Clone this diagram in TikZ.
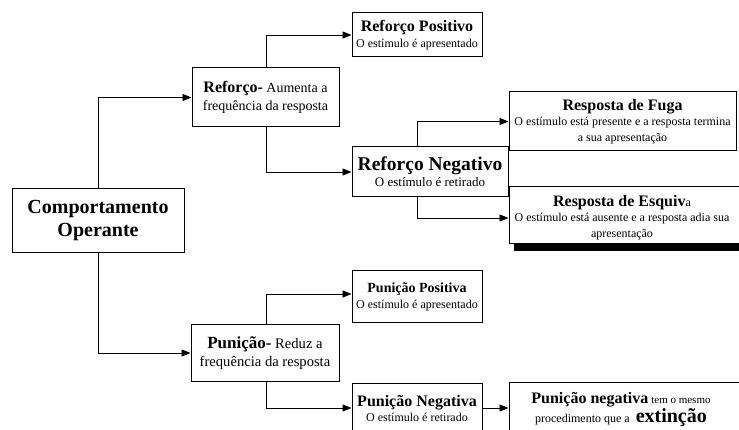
\documentclass[tikz,border=0pt]{standalone}
\usepackage{fontspec}
\setmainfont{Liberation Serif}
\usetikzlibrary{arrows.meta}
\newcommand{\bsz}[2]{{\fontsize{#1}{#1}\selectfont\bfseries #2}}
\begin{document}
\begin{tikzpicture}[x=1pt,y=-1pt,
  box/.style={draw, line width=1pt, fill=white, inner sep=0pt},
  conn/.style={line width=0.9pt},
  arr/.style={conn,-{Triangle[length=9pt,width=7pt]}},
  sml/.style={align=center, inner sep=0pt, font=\fontsize{12}{15.5}\selectfont},
  mid/.style={align=center, inner sep=0pt, font=\fontsize{14}{18.5}\selectfont}]
\useasboundingbox (0,0) rectangle (739,430);
\clip (0,0) rectangle (739,430);

% boxes
\node[box, minimum width=172pt, minimum height=64pt, align=center,
  font=\fontsize{20}{23}\selectfont\bfseries] (co) at (98,221) {Comportamento\\Operante};
\node[box, mid, minimum width=147pt, minimum height=59pt] (ref) at (265.5,97.5)
  {\bsz{16}{Reforço-} Aumenta a\\frequência da resposta};
\node[box, mid, font=\fontsize{14.6}{18.5}\selectfont, minimum width=148pt, minimum height=56pt] (pun) at (265,353)
  {\bsz{17}{Punição-} Reduz a\\frequência da resposta};
\node[box, sml, minimum width=130pt, minimum height=44pt] (rp) at (417,35)
  {\bsz{16}{Reforço Positivo}\\O estímulo é apresentado};
\node[box, sml, font=\fontsize{13}{16}\selectfont, minimum width=156pt, minimum height=50pt] (rn) at (430,172)
  {\bsz{19.5}{Reforço Negativo}\\O estímulo é retirado};
\node[box, sml, minimum width=227pt, minimum height=59pt] (fuga) at (622.5,121.5)
  {\bsz{16}{Resposta de Fuga}\\O estímulo está presente e a resposta termina\\a sua apresentação};
\node[box, sml, minimum width=130pt, minimum height=52pt] (pp) at (417,297)
  {\bsz{14}{Punição Positiva}\\O estímulo é apresentado};

% shadowed box Esquiva
\fill[black] (514,192) rectangle (746,251);
\node[box, minimum width=232pt, minimum height=57pt] (esq) at (625,215.5) {};
\node[sml] (esqt) at (622,217.5)
  {\bsz{16}{Resposta de Esquiv}a\\O estímulo está ausente e a resposta adia sua\\apresentação};

% cut-off boxes at the bottom
\node[box, minimum width=130pt, minimum height=62pt] (pn) at (417,414) {};
\node[sml] (pnt) at (417,408.5) {\bsz{16}{Punição Negativa}\\O estímulo é retirado};
\node[box, minimum width=236pt, minimum height=63pt] (pn2) at (627,413.5) {};
\node[sml, font=\fontsize{12}{19}\selectfont] (pn2t) at (621,409)
  {\bsz{16}{Punição negativa} {\fontsize{11}{11}\selectfont tem o mesmo}\\procedimento que a \ \bsz{20}{extinção}};

% connectors
\coordinate (pny) at (0,408);
\draw[arr] (co.north) |- (ref.west);
\draw[arr] (co.south) |- (pun.west);
\draw[arr] ([xshift=0.5pt]ref.north) |- (rp.west);
\draw[arr] ([xshift=0.5pt]ref.south) |- (rn.west);
\draw[arr] ([xshift=-13pt]rn.north) |- (fuga.west);
\draw[arr] ([xshift=-13pt]rn.south) |- ([yshift=-2.5pt]esq.west);
\draw[arr] ([xshift=1pt]pun.north) |- ([yshift=3pt]pp.west);
\draw[arr] ([xshift=1pt]pun.south) |- (pn.west |- pny);
\draw[arr] (pn.east |- pny) -- (pn2.west |- pny);
\end{tikzpicture}
\end{document}
